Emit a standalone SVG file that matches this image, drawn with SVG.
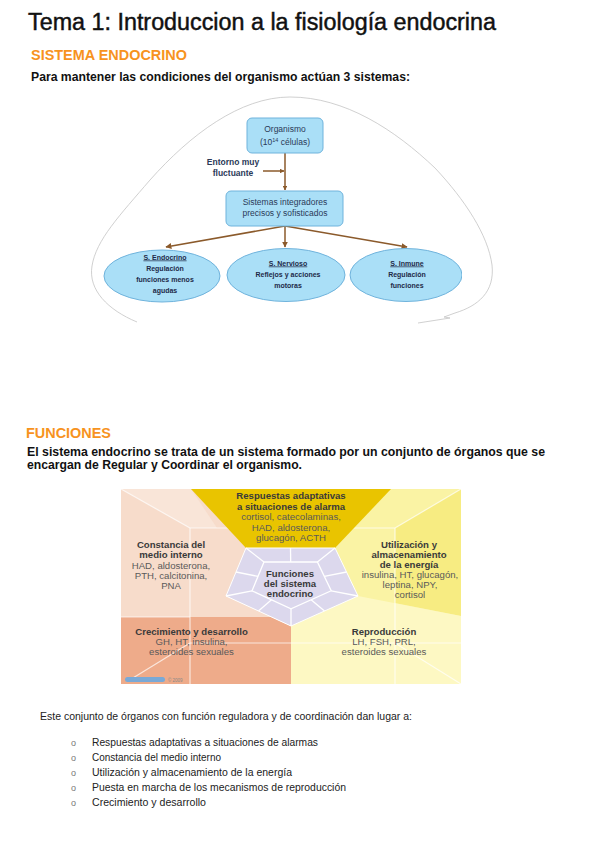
<svg xmlns="http://www.w3.org/2000/svg" width="599" height="848" viewBox="0 0 599 848">
<style>
text{font-family:"Liberation Sans",Arial,sans-serif}
.title{font-size:23px;fill:#111;stroke:#111;stroke-width:0.45}
.hd{font-size:14.5px;font-weight:bold;fill:#f7931e}
.bd{font-size:13px;font-weight:bold;fill:#111}
.box{fill:#aadff7;stroke:#6fb3dc;stroke-width:1}
.bt{font-size:8.5px;fill:#2b3a58;text-anchor:middle}
.et{font-size:7px;font-weight:bold;fill:#1e2a48;text-anchor:middle}
.arr{stroke:#8b5a2b;stroke-width:1.5;fill:none}
.pb{font-size:9.6px;font-weight:bold;fill:#3a3a3a;text-anchor:middle}
.pr{font-size:9.6px;fill:#5a5a5a;text-anchor:middle}
.grid{stroke:#fff;stroke-opacity:.7;stroke-width:1.2;fill:none}
.inner{stroke:#fff;stroke-width:1.3;fill:none}
.lt{font-size:10.5px;fill:#222}
.bul{font-size:9px;fill:#777}
</style>
<defs>
<marker id="ah" viewBox="0 0 10 10" refX="9" refY="5" markerWidth="4.5" markerHeight="4.5" orient="auto" markerUnits="userSpaceOnUse">
<path d="M0,0 L10,5 L0,10 z" fill="#8b5a2b"/>
</marker>
<marker id="ah2" viewBox="0 0 10 10" refX="9" refY="5" markerWidth="6" markerHeight="6" orient="auto" markerUnits="userSpaceOnUse">
<path d="M0,0 L10,5 L0,10 z" fill="#8b5a2b"/>
</marker>
<clipPath id="clipR"><rect x="340" y="240" width="122" height="70"/></clipPath>
</defs>

<g id="header">
<text class="title" x="28" y="30" textLength="468" lengthAdjust="spacingAndGlyphs">Tema 1: Introduccion a la fisiología endocrina</text>
<text class="hd" x="31" y="60" textLength="156" lengthAdjust="spacingAndGlyphs">SISTEMA ENDOCRINO</text>
<text class="bd" x="31" y="81" textLength="379" lengthAdjust="spacingAndGlyphs">Para mantener las condiciones del organismo actúan 3 sistemas:</text>
</g>

<g id="diagram1-outline">
<path d="M137,322 C108,310 88,290 92,266 C96,240 120,215 150,180 C190,135 240,97 290,97 C345,97 395,130 435,168 C465,200 488,235 492,265 C495,292 478,306 455,313 L444,317 L450,318 L418,323" fill="none" stroke="#c4c4c4" stroke-width="0.8"/>
</g>

<g id="connectors">
<line class="arr" x1="285" y1="153" x2="285" y2="190" marker-end="url(#ah)"/>
<line class="arr" x1="263" y1="171" x2="284" y2="171" marker-end="url(#ah)"/>
<line class="arr" x1="285" y1="226" x2="166" y2="247" marker-end="url(#ah2)"/>
<line class="arr" x1="285" y1="226" x2="285" y2="247" marker-end="url(#ah2)"/>
<line class="arr" x1="285" y1="226" x2="407" y2="247" marker-end="url(#ah2)"/>
</g>

<g id="node-organismo">
<rect class="box" x="247" y="118" width="76" height="35" rx="5"/>
<text class="bt" x="285" y="132" font-size="9">Organismo</text>
<text class="bt" x="285" y="145" font-size="9">(10<tspan font-size="5.5" dy="-3.5">14</tspan><tspan dy="3.5"> células)</tspan></text>
</g>

<g id="node-entorno">
<text class="bt" x="233" y="165" font-size="7.5" font-weight="bold">Entorno muy</text>
<text class="bt" x="233" y="176" font-size="7.5" font-weight="bold">fluctuante</text>
</g>

<g id="node-sistemas">
<rect class="box" x="226" y="191" width="117" height="35" rx="5"/>
<text class="bt" x="285" y="204.5" font-size="7.8">Sistemas integradores</text>
<text class="bt" x="285" y="215.5" font-size="7.8">precisos y sofisticados</text>
</g>

<g id="node-endocrino">
<ellipse class="box" cx="162" cy="276" rx="58" ry="26"/>
<text class="et" x="165" y="259.5" text-decoration="underline">S. Endocrino</text>
<text class="et" x="165" y="270.5">Regulación</text>
<text class="et" x="165" y="281.5">funciones menos</text>
<text class="et" x="165" y="292.5">agudas</text>
</g>

<g id="node-nervioso">
<ellipse class="box" cx="286" cy="275" rx="59" ry="26.5"/>
<text class="et" x="288" y="265.5" text-decoration="underline">S. Nervioso</text>
<text class="et" x="288" y="276.5">Reflejos y acciones</text>
<text class="et" x="288" y="287.5">motoras</text>
</g>

<g id="node-inmune">
<ellipse class="box" cx="406" cy="275" rx="56" ry="26.5" clip-path="url(#clipR)"/>
<text class="et" x="407" y="265.5" text-decoration="underline">S. Inmune</text>
<text class="et" x="407" y="276.5">Regulación</text>
<text class="et" x="407" y="287.5">funciones</text>
</g>

<g id="funciones-text">
<text class="hd" x="26" y="438" textLength="85" lengthAdjust="spacingAndGlyphs">FUNCIONES</text>
<text class="bd" x="27" y="455.5" textLength="518" lengthAdjust="spacingAndGlyphs">El sistema endocrino se trata de un sistema formado por un conjunto de órganos que se</text>
<text class="bd" x="27" y="469" textLength="275" lengthAdjust="spacingAndGlyphs">encargan de Regular y Coordinar el organismo.</text>
</g>

<g id="diagram2">
<rect x="121" y="489" width="170" height="128" fill="#f7dccb"/>
<polygon points="121,489 191,489 217,528 190,528" fill="#f9e5d8"/>
<rect x="291" y="489" width="170" height="195" fill="#faf3a4"/>
<polygon points="395,528 461,489 461,616 395,603" fill="#f7ec82"/>
<polygon points="291,626 358,596 461,616 461,684 291,684" fill="#fdf8c3"/>
<polygon points="121,617 271.5,617 291,626 291,684 121,684" fill="#eeab8a"/>
<g class="grid">
<line x1="121" y1="489" x2="190" y2="528"/>
<line x1="461" y1="489" x2="395" y2="528"/>
<line x1="128" y1="681" x2="190" y2="643"/>
<line x1="461" y1="684" x2="395" y2="643"/>
<line x1="190" y1="528" x2="190" y2="684"/>
<line x1="395" y1="528" x2="395" y2="684"/>
<line x1="190" y1="528" x2="246" y2="528"/>
<line x1="335" y1="528" x2="395" y2="528"/>
<line x1="121" y1="617" x2="190" y2="617"/>
<line x1="190" y1="643" x2="461" y2="643"/>
</g>
<polygon points="191,489 391,489 335,548 246,548" fill="#e9c400"/>
<polygon points="246,548 335,548 358,596 291,626 226,596" fill="#dcd8ed" stroke="#fff" stroke-width="1"/>
<g class="inner">
<polygon points="264,562 317.4,562 331.2,590.8 291,608.8 252,590.8"/>
<line x1="246" y1="548" x2="264" y2="562"/>
<line x1="335" y1="548" x2="317.4" y2="562"/>
<line x1="358" y1="596" x2="331.2" y2="590.8"/>
<line x1="291" y1="626" x2="291" y2="608.8"/>
<line x1="226" y1="596" x2="252" y2="590.8"/>
<line x1="290.5" y1="548" x2="290.7" y2="562"/>
<line x1="346.5" y1="572" x2="324.3" y2="576.4"/>
<line x1="324.5" y1="611" x2="311.1" y2="599.8"/>
<line x1="258.5" y1="611" x2="271.5" y2="599.8"/>
<line x1="236" y1="572" x2="258" y2="576.4"/>
</g>
</g>

<g id="node-respuestas">
<text class="pb" x="291" y="499">Respuestas adaptativas</text>
<text class="pb" x="291" y="509.5">a situaciones de alarma</text>
<text class="pr" x="291" y="520">cortisol, catecolaminas,</text>
<text class="pr" x="291" y="530.5">HAD, aldosterona,</text>
<text class="pr" x="291" y="541">glucagón, ACTH</text>
</g>
<g id="node-constancia">
<text class="pb" x="171" y="548">Constancia del</text>
<text class="pb" x="171" y="558">medio interno</text>
<text class="pr" x="171" y="568.5">HAD, aldosterona,</text>
<text class="pr" x="171" y="578.7">PTH, calcitonina,</text>
<text class="pr" x="171" y="588.8">PNA</text>
</g>
<g id="node-funciones">
<text class="pb" x="290" y="577">Funciones</text>
<text class="pb" x="290" y="587">del sistema</text>
<text class="pb" x="290" y="597">endocrino</text>
</g>
<g id="node-utilizacion">
<text class="pb" x="409" y="548">Utilización y</text>
<text class="pb" x="409" y="558">almacenamiento</text>
<text class="pb" x="409" y="568">de la energía</text>
<text class="pr" x="410" y="578">insulina, HT, glucagón,</text>
<text class="pr" x="410" y="588">leptina, NPY,</text>
<text class="pr" x="410" y="598">cortisol</text>
</g>
<g id="node-crecimiento">
<text class="pb" x="191.5" y="634.5">Crecimiento y desarrollo</text>
<text class="pr" x="191.5" y="644.5">GH, HT, insulina,</text>
<text class="pr" x="191.5" y="654.5">esteroides sexuales</text>
</g>
<g id="node-reproduccion">
<text class="pb" x="384" y="634.5">Reproducción</text>
<text class="pr" x="384" y="644.5">LH, FSH, PRL,</text>
<text class="pr" x="384" y="654.5">esteroides sexuales</text>
</g>
<g id="logo">
<rect x="125" y="677" width="40" height="5" rx="2.5" fill="#7aa9d6"/>
<text x="168" y="681.5" font-size="4.5" fill="#888">© 2009</text>
</g>

<g id="list">
<text class="lt" x="40" y="720" textLength="372" lengthAdjust="spacingAndGlyphs">Este conjunto de órganos con función reguladora y de coordinación dan lugar a:</text>
<text class="bul" x="71" y="745.5">o</text>
<text class="lt" x="92" y="745.5" textLength="226" lengthAdjust="spacingAndGlyphs">Respuestas adaptativas a situaciones de alarmas</text>
<text class="bul" x="71" y="760.5">o</text>
<text class="lt" x="92" y="760.5" textLength="129" lengthAdjust="spacingAndGlyphs">Constancia del medio interno</text>
<text class="bul" x="71" y="775.5">o</text>
<text class="lt" x="92" y="775.5" textLength="200" lengthAdjust="spacingAndGlyphs">Utilización y almacenamiento de la energía</text>
<text class="bul" x="71" y="790.5">o</text>
<text class="lt" x="92" y="790.5" textLength="254" lengthAdjust="spacingAndGlyphs">Puesta en marcha de los mecanismos de reproducción</text>
<text class="bul" x="71" y="805.5">o</text>
<text class="lt" x="92" y="805.5" textLength="114" lengthAdjust="spacingAndGlyphs">Crecimiento y desarrollo</text>
</g>
</svg>
